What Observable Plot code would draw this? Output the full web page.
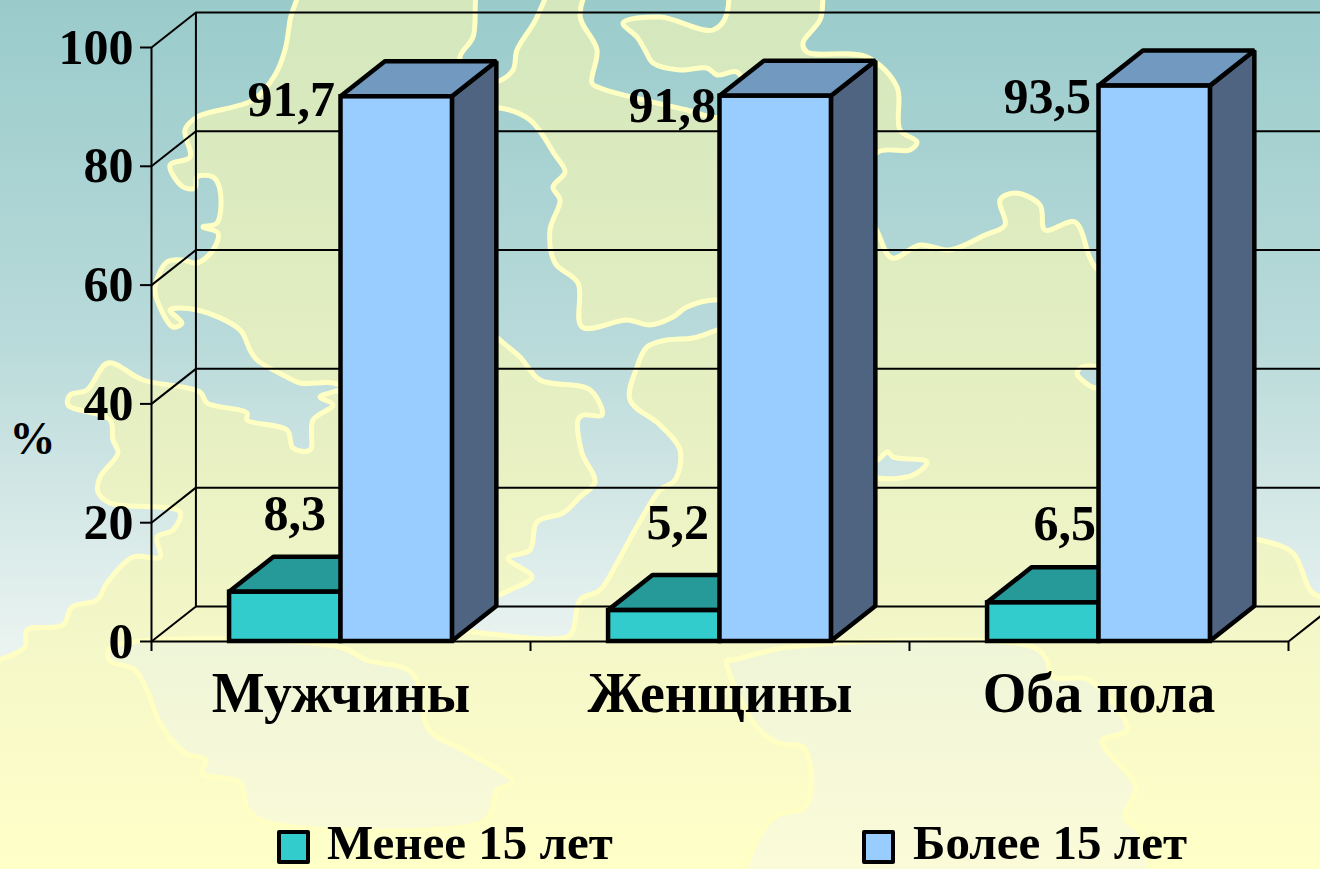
<!DOCTYPE html>
<html lang="ru">
<head>
<meta charset="utf-8">
<script src="https://cdn.jsdelivr.net/npm/d3@7"></script>
<script src="https://cdn.jsdelivr.net/npm/@observablehq/plot@0.6"></script>
<style>
  html, body { margin: 0; padding: 0; width: 1320px; height: 869px; overflow: hidden; }
  #page { position: relative; width: 1320px; height: 869px; overflow: hidden; font-family: "Liberation Serif", serif; }
  #map { position: absolute; left: 0; top: 0; }
  #chart { position: relative; width: 1320px; height: 825px; }
  #legend { position: relative; width: 1320px; height: 44px; color: #000; font-weight: bold; font-size: 49px; line-height: 44px; }
  #legend .sw { position: absolute; top: 5px; width: 25px; height: 26px; border: 4px solid #000; border-radius: 2px; }
  #legend .lb { position: absolute; top: -10px; line-height: 56px; white-space: nowrap; }
</style>
</head>
<body>
<div id="page">
  <svg id="map" width="1320" height="869" viewBox="0 0 1320 869">
    <defs>
      <linearGradient id="land" gradientUnits="userSpaceOnUse" x1="0" y1="0" x2="0" y2="869">
        <stop offset="0" stop-color="#d4e7bd"/>
        <stop offset="0.46" stop-color="#e5efc2"/>
        <stop offset="0.736" stop-color="#f4f7c8"/>
        <stop offset="1" stop-color="#ffffc8"/>
      </linearGradient>
      <linearGradient id="sea" gradientUnits="userSpaceOnUse" x1="0" y1="0" x2="0" y2="869">
        <stop offset="0" stop-color="#9acbcb"/>
        <stop offset="0.39" stop-color="#b9dada"/>
        <stop offset="0.736" stop-color="#e9f3f0"/>
        <stop offset="1" stop-color="#fbfbdc"/>
      </linearGradient>
      <linearGradient id="lowersea" gradientUnits="userSpaceOnUse" x1="0" y1="640" x2="0" y2="869">
        <stop offset="0" stop-color="#eff5d8"/>
        <stop offset="1" stop-color="#fbfbd8"/>
      </linearGradient>
    </defs>
    <rect width="1320" height="869" fill="url(#land)"/>
    <g id="seas" fill="url(#sea)" stroke="#ffffc4" stroke-width="5" stroke-linejoin="round">
      <polygon points="-20,-20 296,-20 290,20 285,50 275,75 253,100 197,117 185,130 190,157 170,165 183,187 195,188 197,177 213,177 220,190 217,223 203,227 218,233 213,250 197,263 183,260 167,262 155,287 157,300 173,327 182,323 170,310 197,310 240,330 250,350 257,360 287,377 300,383 333,383 345,388 333,392 320,397 333,405 313,420 310,450 293,448 287,430 247,420 247,413 207,403 200,392 143,380 108,363 87,390 70,395 68,405 110,420 113,440 118,453 100,477 98,492 110,503 180,512 173,530 157,537 160,557 133,557 107,583 97,600 72,607 63,625 27,630 25,647 0,660 -20,670"/>
      <polygon points="482,-20 473,37 460,57 465,85 497,82 513,70 517,50 537,17 547,-20"/>
      <polygon points="598,-20 580,15 597,50 592,83 600,88 687,110 720,117 745,95 737,72 717,75 707,68 680,70 653,63 645,50 637,37 623,23 660,17 713,30 727,13 722,-20"/>
      <polygon points="832,-20 820,20 803,43 807,52 867,57 897,87 900,130 917,142 910,150 878,152 860,190 878,233 892,258 920,245 950,250 985,235 1005,225 1000,200 1015,193 1040,205 1045,230 1075,222 1090,258 1098,270 1180,300 1200,530 1260,540 1293,553 1310,590 1320,597 1345,600 1345,-20"/>
      <polygon points="470,110 500,108 530,120 555,155 565,172 553,187 560,200 550,230 555,263 578,283 582,327 627,320 650,325 673,317 687,307 717,300 760,315 717,330 693,338 667,340 647,347 637,367 630,400 660,425 680,450 675,480 660,490 635,530 617,563 600,590 580,600 573,630 567,637 500,635 451,625 490,600 510,590 532,577 508,558 530,550 537,522 563,513 580,497 595,482 582,453 578,420 583,415 602,415 590,390 540,380 520,357 500,340 470,310"/>
      <polygon points="860,470 878,460 888,452 893,457 927,462 913,475 878,478"/>
      <polygon points="1110,375 1097,367 1082,367 1077,373 1082,380 1097,388"/>
      <polygon fill="url(#lowersea)" points="110,648 109,660 135,670 147,690 160,723 185,753 206,760 202,773 240,783 248,810 269,823 480,823 492,810 497,790 513,782 463,750 429,730 412,673 366,660 340,647"/>
      <polygon fill="url(#lowersea)" points="727,660 732,680 757,727 778,743 803,747 811,773 805,807 774,817 748,860 745,885 1145,885 1140,833 1125,817 1136,787 1106,750 1102,740 1127,730 1089,680 1053,677 1047,660 1033,647 790,647 733,660"/>
    </g>
  </svg>
  <div id="chart"></div>
  <div id="legend"></div>
</div>
<script>
// ---- chart values ----
const categories = ["Мужчины", "Женщины", "Оба пола"];
const under15 = [8.3, 5.2, 6.5];
const over15 = [91.7, 91.8, 93.5];
const seriesNames = ["Менее 15 лет", "Более 15 лет"];
const yTicks = [0, 20, 40, 60, 80, 100];
const xBounds = [0, 1, 2, 3];

// ---- smooth the background map outlines ----
const smooth = d3.line().curve(d3.curveCatmullRomClosed.alpha(0.5));
document.querySelectorAll("#seas polygon").forEach((poly) => {
  const pts = poly.getAttribute("points").trim().split(/\s+/).map((p) => p.split(",").map(Number));
  const path = document.createElementNS("http://www.w3.org/2000/svg", "path");
  path.setAttribute("d", smooth(pts));
  if (poly.getAttribute("fill")) path.setAttribute("fill", poly.getAttribute("fill"));
  poly.replaceWith(path);
});

// ---- layout in scale units ----
const barW = 0.294;      // bar width in category units
const depX = 0.1172;     // 3D depth along x
const depY = 5.9;        // 3D depth along y
const mid = (i) => i + 0.5;

const teal = { front: "#33cccc", top: "#269999" };
const blue = { front: "#99ccff", top: "#7299bf", side: "#4f6480" };

const tealRows = categories.map((c, i) => ({ key: c, x1: mid(i) - barW, x2: mid(i), v: under15[i] }));
const blueRows = categories.map((c, i) => ({ key: c, x1: mid(i), x2: mid(i) + barW, v: over15[i] }));

const topFace = (rows) => rows.flatMap((r) => [
  { key: r.key, y: r.v, x1: r.x1, x2: r.x2 },
  { key: r.key, y: r.v + depY, x1: r.x1 + depX, x2: r.x2 + depX }
]);
const sideFace = (rows) => rows.flatMap((r) => [
  { key: r.key, x: r.x2, y1: 0, y2: r.v },
  { key: r.key, x: r.x2 + depX, y1: depY, y2: r.v + depY }
]);

const fmt = (v) => v.toFixed(1).replace(".", ",");
const valueLabel = (i, v, dx, dy) => Plot.text([v], {
  x: () => mid(i), y: (d) => d, text: fmt,
  textAnchor: "end", lineAnchor: "bottom", dx, dy,
  fontSize: 50, fontWeight: "bold", fill: "#000"
});

const edge = { stroke: "#000", strokeWidth: 4.5, strokeLinejoin: "miter" };

const plot = Plot.plot({
  width: 1320,
  height: 825,
  marginLeft: 151,
  marginRight: 32,
  marginTop: 47,
  marginBottom: 184,
  style: { background: "transparent", overflow: "visible", fontFamily: "Liberation Serif, serif", color: "#000" },
  x: { type: "linear", domain: [0, 3], axis: null },
  y: { type: "linear", domain: [0, 100], axis: null },
  marks: [
    // back wall grid
    Plot.ruleY(yTicks, { y: (d) => d + depY, x1: () => depX, x2: () => 3 + depX, stroke: "#000", strokeWidth: 2 }),
    Plot.ruleX([depX], { y1: () => depY, y2: () => 100 + depY, stroke: "#000", strokeWidth: 2 }),
    // side wall slants
    Plot.link(yTicks, { x1: () => 0, y1: (d) => d, x2: () => depX, y2: (d) => d + depY, stroke: "#000", strokeWidth: 2 }),
    Plot.link([3], { x1: (d) => d, y1: () => 0, x2: (d) => d + depX, y2: () => depY, stroke: "#000", strokeWidth: 2 }),
    // front left wall and floor edge
    Plot.ruleX([0], { y1: () => 0, y2: () => 100, stroke: "#000", strokeWidth: 2 }),
    Plot.ruleY([0], { x1: () => 0, x2: () => 3, stroke: "#000", strokeWidth: 2 }),
    // teal bars
    Plot.areaX(topFace(tealRows), { y: "y", x1: "x1", x2: "x2", z: "key", fill: teal.top, ...edge }),
    Plot.rect(tealRows, { x1: "x1", x2: "x2", y1: () => 0, y2: "v", fill: teal.front, ...edge }),
    // blue bars
    Plot.areaY(sideFace(blueRows), { x: "x", y1: "y1", y2: "y2", z: "key", fill: blue.side, ...edge }),
    Plot.areaX(topFace(blueRows), { y: "y", x1: "x1", x2: "x2", z: "key", fill: blue.top, ...edge }),
    Plot.rect(blueRows, { x1: "x1", x2: "x2", y1: () => 0, y2: "v", fill: blue.front, ...edge }),
    // value labels
    valueLabel(0, over15[0], -6, 19),
    valueLabel(1, over15[1], -4, 26),
    valueLabel(2, over15[2], -8, 27),
    valueLabel(0, under15[0], -15, -62),
    valueLabel(1, under15[1], -11, -72),
    valueLabel(2, under15[2], -3, -63),
    // axes
    Plot.axisY({ ticks: yTicks, tickSize: 11, tickPadding: 7, strokeWidth: 2, fontSize: 50, fontWeight: "bold", label: null }),
    Plot.axisX({ ticks: xBounds, tickSize: 10, tickFormat: () => "", strokeWidth: 2, label: null }),
    Plot.axisX({
      ticks: categories.map((_, i) => mid(i)), tickSize: 0, tickPadding: 31,
      tickFormat: (d) => categories[d - 0.5], fontSize: 56, fontWeight: "bold", label: null
    }),
    // unit label
    Plot.text(["%"], { frameAnchor: "left", y: () => 34, dx: -142, fontSize: 46, fontWeight: "bold", fill: "#000" })
  ]
});
document.getElementById("chart").appendChild(plot);

// ---- legend below the SVG ----
const legend = document.getElementById("legend");
[[seriesNames[0], teal.front, 277, 327], [seriesNames[1], blue.front, 862, 913]].forEach(([name, color, sx, tx]) => {
  const sw = document.createElement("span");
  sw.className = "sw"; sw.style.left = sx + "px"; sw.style.background = color;
  const lb = document.createElement("span");
  lb.className = "lb"; lb.style.left = tx + "px"; lb.textContent = name;
  legend.append(sw, lb);
});
</script>
</body>
</html>
